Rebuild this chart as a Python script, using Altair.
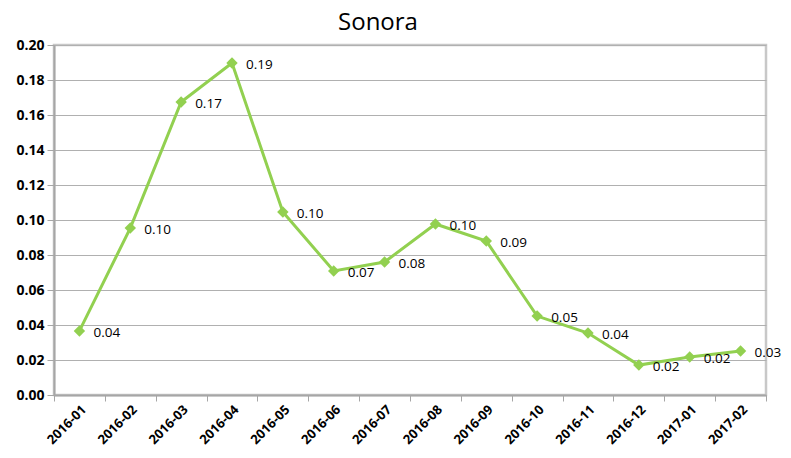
import altair as alt
import pandas as pd

months = ["2016-01", "2016-02", "2016-03", "2016-04", "2016-05", "2016-06", "2016-07",
          "2016-08", "2016-09", "2016-10", "2016-11", "2016-12", "2017-01", "2017-02"]
values = [0.0366, 0.0954, 0.1674, 0.1897, 0.1046, 0.0709, 0.0760,
          0.0977, 0.0880, 0.0451, 0.0354, 0.0171, 0.0217, 0.0251]

df = pd.DataFrame({"month": months, "value": values})

FONT = "Open Sans"
GREEN = "#92D050"

x = alt.X("month:N", sort=months,
          scale=alt.Scale(paddingInner=0, paddingOuter=0),
          axis=alt.Axis(title=None, labelAngle=-45, labelFontWeight="bold",
                        labelFontSize=13, labelFont=FONT, labelColor="#000000",
                        tickBand="extent", tickSize=6, tickColor="#a6a6a6",
                        domainColor="#a6a6a6", domainWidth=2, labelPadding=2,
                        grid=False))
y = alt.Y("value:Q",
          scale=alt.Scale(domain=[0, 0.2], nice=False),
          axis=alt.Axis(title=None, values=[i / 100 for i in range(0, 21, 2)],
                        format=".2f", labelFontWeight="bold", labelFontSize=14,
                        labelFont=FONT, labelColor="#000000", tickSize=7,
                        tickColor="#a6a6a6", domainColor="#a6a6a6", domainWidth=2,
                        gridColor="#b0b0b0", gridWidth=1.2, labelPadding=3))

base = alt.Chart(df).encode(x=x, y=y)

line = base.mark_line(color=GREEN, strokeWidth=3)
pts = base.mark_point(shape="diamond", filled=True, size=130, color=GREEN, opacity=1)
labels = base.mark_text(align="left", baseline="middle", dx=14, dy=2,
                        font=FONT, fontSize=13.5, color="#000000").encode(
    text=alt.Text("value:Q", format=".2f"))

chart = (line + pts + labels).properties(
    width=712, height=350,
    autosize="none",
    padding={"left": 46, "top": 37, "right": 17, "bottom": 55},
    title=alt.TitleParams("Sonora", font=FONT, fontSize=24, fontWeight="normal",
                          color="#000000", anchor="middle", dx=-32, offset=3),
).configure_view(stroke="#c8c8c8", strokeWidth=2.5)

chart.save("out.html", embed_options={"renderer": "svg", "actions": False})
